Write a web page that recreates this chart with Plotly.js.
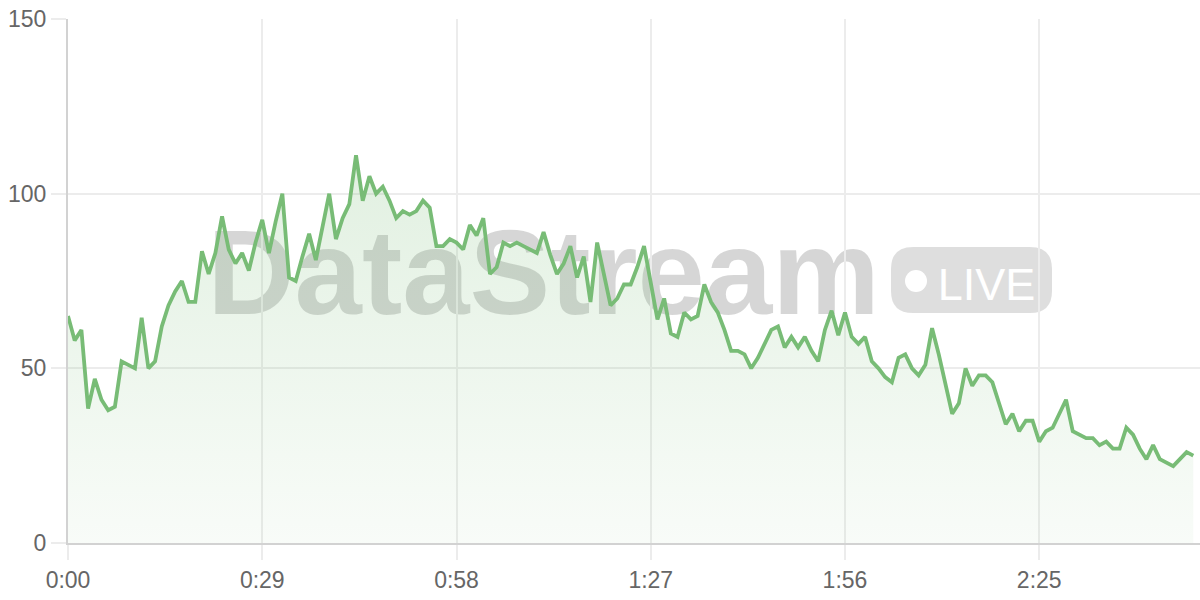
<!DOCTYPE html>
<html>
<head>
<meta charset="utf-8">
<script src="https://cdn.plot.ly/plotly-3.0.1.min.js"></script>
<style>
  html, body { margin: 0; padding: 0; background: #ffffff; }
  #chart { width: 1200px; height: 600px; }
</style>
</head>
<body>
<div id="chart"></div>
<script>
// ---- data (one value per second) ----
const values = [
  65, 58, 61, 38.5, 47, 41, 38, 39, 52, 51,
  50, 64.5, 50, 52, 62, 68, 72, 75, 69, 69,
  83.5, 77, 83, 93.5, 84, 80, 83, 78, 86, 92.5,
  83, 92, 100, 76, 75, 82, 88.5, 81, 91, 100,
  87, 93, 97,
  111, 98, 105, 100, 102, 98, 93, 95, 94, 95,
  98, 96, 85, 85, 87, 86, 84, 91, 88, 93,
  77, 79, 86, 85, 86, 85, 84, 83, 89, 82.5,
  77, 80, 85, 76, 82, 69, 86, 77, 68, 70,
  74, 74,
  79, 85, 75, 64, 70, 60, 59, 66, 64, 65,
  74, 69, 66, 61, 55, 55, 54, 50, 53, 57,
  61, 62, 56, 59, 56, 59, 55, 52, 61, 66.5,
  59.5, 66, 59, 57, 59, 52, 50, 47.5, 46, 53,
  54,
  50, 48, 51, 61.5, 54, 46, 37, 40, 50, 45,
  48, 48, 46, 40, 34, 37, 32, 35, 35, 29,
  32, 33, 37, 41, 32, 31, 30, 30, 28, 29,
  27, 27, 33, 31, 27, 24, 28, 24, 23, 22,
  24, 26, 25
];
const seconds = values.map((v, i) => i);
const xTickVals = [0, 29, 58, 87, 116, 145];
const xTickText = ["0:00", "0:29", "0:58", "1:27", "1:56", "2:25"];
const yTickVals = [0, 50, 100, 150];
const watermarkText = "DataStream";
const badgeText = "LIVE";

// ---- layout geometry helpers (pixel -> paper) ----
const M = { l: 68, r: 0, t: 19, b: 57 };
const W = 1200, H = 600;
const PW = W - M.l - M.r, PH = H - M.t - M.b;
const px = x => (x - M.l) / PW;
const py = y => (H - M.b - y) / PH;

function roundedRectPath(x0, y0, x1, y1, r) {
  const rx = r / PW, ry = r / PH;
  const X0 = px(x0), X1 = px(x1), Yt = py(y0), Yb = py(y1);
  return `M ${X0 + rx} ${Yt} L ${X1 - rx} ${Yt} Q ${X1} ${Yt} ${X1} ${Yt - ry} ` +
         `L ${X1} ${Yb + ry} Q ${X1} ${Yb} ${X1 - rx} ${Yb} ` +
         `L ${X0 + rx} ${Yb} Q ${X0} ${Yb} ${X0} ${Yb + ry} ` +
         `L ${X0} ${Yt - ry} Q ${X0} ${Yt} ${X0 + rx} ${Yt} Z`;
}

const green = 'rgb(120,188,118)';
const FONT = 'Liberation Sans, Arial, sans-serif';

const trace = {
  x: seconds,
  y: values,
  type: 'scatter',
  mode: 'lines',
  line: { color: green, width: 3.8, shape: 'linear' },
  fill: 'tozeroy',
  fillgradient: {
    type: 'vertical',
    start: 0,
    stop: 111,
    colorscale: [[0, 'rgba(120,188,118,0.05)'], [1, 'rgba(120,188,118,0.22)']]
  },
  hoverinfo: 'skip'
};

const shapes = [
  {
    type: 'rect', xref: 'paper', yref: 'paper', layer: 'below',
    x0: px(190), x1: px(897), y0: py(310), y1: py(212),
    line: { width: 0 }, fillcolor: 'rgba(0,0,0,0)',
    label: {
      text: watermarkText, textposition: 'middle center',
      font: { family: FONT, size: 121, weight: 700, color: 'rgba(0,0,0,0.16)' }
    }
  },
  {
    type: 'path', xref: 'paper', yref: 'paper', layer: 'below',
    path: roundedRectPath(891, 247, 1052, 313, 22),
    line: { width: 0 }, fillcolor: 'rgba(0,0,0,0.13)'
  },
  {
    type: 'circle', xref: 'paper', yref: 'paper', layer: 'below',
    x0: px(905), x1: px(927), y0: py(292), y1: py(270),
    line: { width: 0 }, fillcolor: '#ffffff'
  },
  {
    type: 'rect', xref: 'paper', yref: 'paper', layer: 'below',
    x0: px(936), x1: px(1037), y0: py(305), y1: py(255),
    line: { width: 0 }, fillcolor: 'rgba(0,0,0,0)',
    label: {
      text: badgeText, textposition: 'middle center',
      font: { family: FONT, size: 45, weight: 400, color: '#ffffff' }
    }
  }
];

const layout = {
  width: W, height: H,
  margin: M,
  paper_bgcolor: '#ffffff',
  plot_bgcolor: 'rgba(0,0,0,0)',
  showlegend: false,
  hovermode: false,
  font: { family: FONT, size: 23, color: '#666666' },
  xaxis: {
    range: [0, 169],
    tickmode: 'array', tickvals: xTickVals, ticktext: xTickText,
    showgrid: true, gridcolor: '#ececec', gridwidth: 2,
    ticks: 'outside', ticklen: 15, tickwidth: 2, tickcolor: '#ececec',
    showline: true, linecolor: '#d2d2d2', linewidth: 2,
    zeroline: false,
    tickfont: { family: FONT, size: 23, color: '#666666' },
    fixedrange: true
  },
  yaxis: {
    range: [0, 150],
    tickmode: 'array', tickvals: yTickVals,
    showgrid: true, gridcolor: '#ececec', gridwidth: 2,
    ticks: 'outside', ticklen: 15, tickwidth: 2, tickcolor: '#ececec',
    showline: true, linecolor: '#d2d2d2', linewidth: 2,
    zeroline: false,
    tickfont: { family: FONT, size: 23, color: '#666666' },
    fixedrange: true
  },
  shapes: shapes
};

Plotly.newPlot('chart', [trace], layout, { displayModeBar: false, staticPlot: true });
</script>
</body>
</html>
